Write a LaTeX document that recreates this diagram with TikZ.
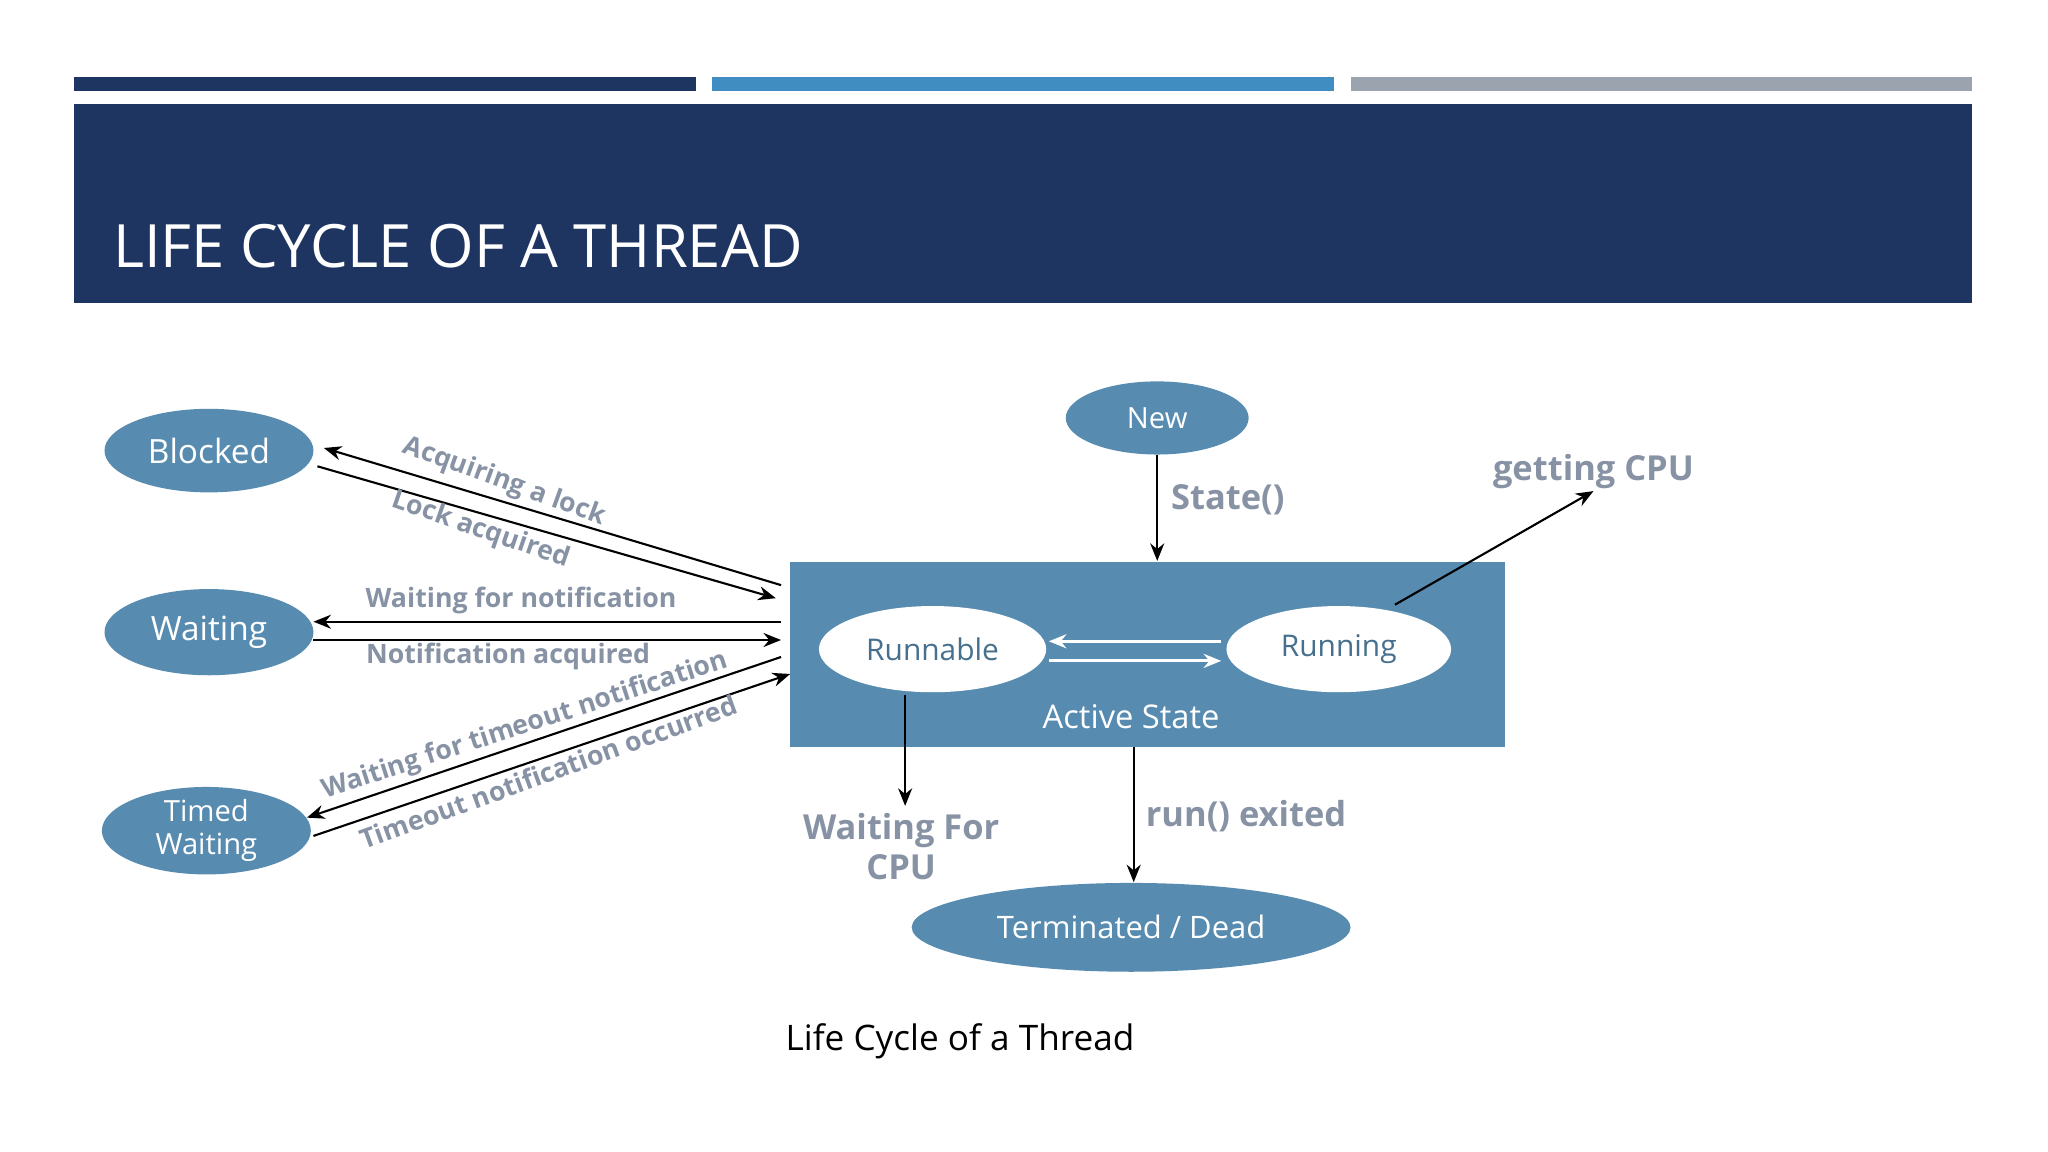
\documentclass[tikz,border=0pt]{standalone}
\usepackage{fontspec}
\setmainfont{Open Sans}
\usetikzlibrary{shapes.geometric,arrows.meta}
\definecolor{navy}{HTML}{1E3461}
\definecolor{midblue}{HTML}{3F8DC1}
\definecolor{bargray}{HTML}{9AA3AE}
\definecolor{st}{HTML}{578CB0}
\definecolor{lbl}{HTML}{8793A5}
\begin{document}
\begin{tikzpicture}[x=0.013061cm,y=-0.013061cm,
  st/.style={ellipse,fill=st,text=white,font=\fontsize{9.5}{11}\selectfont,inner sep=0pt},
  wt/.style={ellipse,fill=white,text=st!80!black,font=\fontsize{8.5}{10}\selectfont,inner sep=0pt},
  lb/.style={text=lbl,font=\bfseries\fontsize{7.6}{9}\selectfont,inner sep=0pt},
  bl/.style={text=lbl,font=\bfseries\fontsize{9.8}{11.5}\selectfont,inner sep=0pt},
  ar/.style={-{Stealth[length=5pt,width=4pt]},line width=0.6pt},
  wa/.style={-{Stealth[length=5pt,width=4pt]},line width=0.8pt,white}]
\useasboundingbox (0,0) rectangle (1568,882);
\fill[white] (0,0) rectangle (1568,882);
\fill[navy] (57,59) rectangle (533,70);
\fill[midblue] (545,59) rectangle (1021,70);
\fill[bargray] (1034,59) rectangle (1510,70);
\fill[navy] (57,80) rectangle (1510,232);
\node[anchor=base west,text=white,font=\fontsize{17}{20}\selectfont,inner sep=0pt] (title) at (86,205) {LIFE CYCLE OF A THREAD};

\node[st,minimum width={160*0.013061cm},minimum height={64*0.013061cm}] (blocked) at (160,345) {Blocked};
\node[st,minimum width={160*0.013061cm},minimum height={66*0.013061cm}] (waiting) at (160,484) {Waiting};
\node[st,minimum width={160*0.013061cm},minimum height={66*0.013061cm},align=center,font=\fontsize{8.3}{9.3}\selectfont] (timed) at (158,636) {Timed\\Waiting};
\node[st,minimum width={140*0.013061cm},minimum height={56*0.013061cm},font=\fontsize{8.3}{10}\selectfont] (new) at (886,320) {New};
\node[fill=st,minimum width={547*0.013061cm},minimum height={142*0.013061cm},inner sep=0pt] (active) at (878.5,501) {};
\node[text=white,font=\fontsize{9.3}{11}\selectfont] (actlbl) at (866,549) {Active State};
\node[wt,minimum width={174*0.013061cm},minimum height={66*0.013061cm}] (runnable) at (714,497) {Runnable};
\node[wt,minimum width={172*0.013061cm},minimum height={66*0.013061cm}] (running) at (1025,497) {Running};
\node[st,minimum width={336*0.013061cm},minimum height={68*0.013061cm},font=\fontsize{8.8}{10}\selectfont] (term) at (866,710) {Terminated / Dead};

\coordinate (b1) at (598,448); \coordinate (b2) at (594,458);
\coordinate (w1) at (598,476); \coordinate (w2) at (598,490);
\coordinate (t1) at (598,503); \coordinate (t2) at (605,516);
\draw[ar] (b1) -- (248,343);
\draw[ar] (243,357) -- (b2);
\draw[ar] (w1) -- (240,476);
\draw[ar] (240,490) -- (w2);
\draw[ar] (t1) -- (235,626);
\draw[ar] (240,640) -- (t2);

\node[lb,rotate=-20] (l1) at (386,369) {Acquiring a lock};
\node[lb,rotate=-19] (l2) at (368,406) {Lock acquired};
\node[lb] (l3) at (399,460) {Waiting for notification};
\node[lb] (l4) at (389,503) {Notification acquired};
\node[lb,rotate=18] (l5) at (402,556) {Waiting for timeout notification};
\node[lb,rotate=20] (l6) at (420,591) {Timeout notification occurred};

\draw[ar] (new) -- (active.north -| new);
\node[bl] (statel) at (940,383) {State()};
\coordinate (cpu) at (1220,376);
\draw[ar] (1068,463) -- (cpu);
\node[bl] (cpul) at (1220,361) {getting CPU};
\draw[wa] (935,491) -- (803,491);
\draw[wa] (803,506) -- (935,506);
\coordinate (wf) at (693,617);
\draw[ar] (693,532) -- (wf);
\node[bl,align=center] (wfl) at (690,648) {Waiting For\\CPU};
\draw[ar] (868,572) -- (term.north -| 868,0);
\node[bl] (runl) at (954,625) {run() exited};
\node[font=\fontsize{10}{12}\selectfont] (cap) at (735,797) {Life Cycle of a Thread};
\end{tikzpicture}
\end{document}
